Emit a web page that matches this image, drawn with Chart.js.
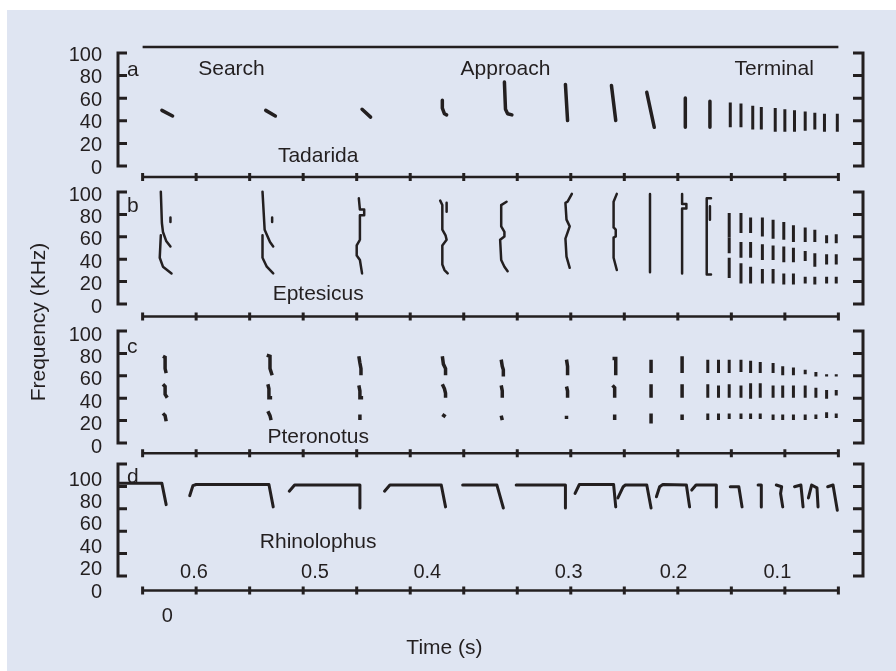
<!DOCTYPE html>
<html>
<head>
<meta charset="utf-8">
<script src="https://cdn.jsdelivr.net/npm/chart.js@4.4.1/dist/chart.umd.min.js"></script>
<style>
  html, body { margin: 0; padding: 0; background: #fff; }
  #stage { position: relative; width: 896px; height: 671px; overflow: hidden; }
  #panelBg { position: absolute; left: 7px; top: 10px; right: 0; bottom: 0; background: #dfe5f2; }
  canvas { position: absolute; left: 0; top: 0; }
</style>
</head>
<body>
<div id="stage">
  <div id="panelBg"></div>
  <canvas id="chartA" width="896" height="671"></canvas>
  <canvas id="chartB" width="896" height="671"></canvas>
  <canvas id="chartC" width="896" height="671"></canvas>
  <canvas id="chartD" width="896" height="671"></canvas>
</div>
<script>
// === Eixos (tempo em ms ao longo do trecho, frequência em kHz) ===
const yTicks = [0, 20, 40, 60, 80, 100];
const timeTicks = [0, 50, 100, 150, 200, 250, 300, 350, 400, 450, 500, 550, 600, 650];
const timeTickLabels = ['0.6', '0.5', '0.4', '0.3', '0.2', '0.1'];
const timeTickPos = [48, 161, 266, 398, 496, 593];
const phaseLabels = ['Search', 'Approach', 'Terminal'];
const phasePos = [83, 339, 590];
const speciesNames = ['Tadarida', 'Eptesicus', 'Pteronotus', 'Rhinolophus'];
const panelLetters = ['a', 'b', 'c', 'd'];

// === a: Tadarida ===
const tadaridaCalls = [
  [[18, 51], [28, 46]],
  [[115, 51], [124, 46]],
  [[205, 52], [213, 45]],
  [[280, 60], [280, 53], [282, 48], [284, 47]],
  [[338, 76], [339, 52], [341, 48], [345, 47]],
  [[395, 74], [397, 42]],
  [[438, 73], [442, 42]],
  [[471, 67], [478, 36]],
  [[507, 62], [507, 36]],
  [[530, 59], [530, 36]]
];
const tadaridaBarX = [549, 559, 570, 578, 591, 600, 609, 619, 628, 637, 649];
const tadaridaBars = [[58, 36], [57, 36], [55, 34], [54, 34], [53, 32], [52, 32], [51, 32], [50, 33], [49, 34], [48, 32], [48, 32]];

// === b: Eptesicus ===
const eptesicusCalls = [
  [[17, 103], [18, 75], [19, 67], [22, 59], [26, 54]],
  [[17, 64], [16, 44], [19, 36], [27, 30]],
  [[26, 80], [26, 76]],
  [[112, 103], [114, 69], [119, 58], [122, 54]],
  [[112, 64], [112, 44], [116, 36], [122, 30]],
  [[121, 80], [121, 76]],
  [[202, 97], [203, 87], [207, 87], [207, 82], [203, 82], [203, 60], [200, 55], [200, 46], [203, 42], [205, 30]],
  [[278, 95], [280, 91], [280, 69], [283, 64], [284, 60], [280, 55], [280, 38], [282, 33], [285, 30]],
  [[284, 93], [284, 85]],
  [[340, 94], [335, 91], [335, 72], [338, 67], [338, 63], [334, 60], [335, 42], [338, 36], [341, 32]],
  [[401, 101], [397, 94], [395, 93], [396, 78], [399, 72], [395, 61], [396, 45], [399, 35]],
  [[443, 101], [440, 94], [440, 71], [442, 69], [442, 63], [440, 62], [440, 44], [443, 33]],
  [[474, 101], [474, 31]],
  [[504, 101], [504, 92], [508, 92], [508, 88], [504, 88], [504, 30]],
  [[531, 97], [527, 97], [527, 29], [531, 29]],
  [[530, 90], [530, 78]]
];
const eptesicusBarX = [548, 559, 568, 579, 589, 599, 608, 619, 628, 639, 648];
const eptesicusHigh = [[84, 62], [84, 66], [80, 66], [80, 63], [78, 61], [76, 60], [73, 58], [71, 58], [69, 58], [64, 57], [65, 57]];
const eptesicusMid = [[62, 48], [58, 44], [58, 44], [56, 42], [55, 42], [54, 40], [53, 40], [50, 41], [48, 36], [47, 38], [47, 38]];
const eptesicusLow = [[44, 26], [39, 21], [36, 21], [34, 21], [34, 21], [30, 20], [30, 20], [27, 21], [27, 20], [27, 21], [27, 21]];

// === c: Pteronotus ===
const pteronotusCalls = [
  [[19, 81], [21, 80], [21, 70], [22, 66]], [[19, 56], [21, 54], [21, 47], [23, 44]], [[19, 30], [21, 28], [22, 23]],
  [[116, 82], [119, 81], [119, 70], [121, 64]], [[117, 56], [118, 52], [118, 44], [121, 44]], [[117, 32], [119, 28], [120, 24]],
  [[202, 81], [203, 75], [204, 70], [204, 64]], [[202, 55], [203, 50], [203, 44], [206, 44]], [[203, 29], [203, 24]],
  [[280, 81], [281, 74], [283, 70], [283, 64]], [[280, 56], [282, 52], [283, 48], [283, 44]], [[280, 29], [283, 27]],
  [[335, 78], [336, 72], [337, 69], [337, 63]], [[335, 55], [336, 50], [336, 44]], [[335, 28], [336, 24]],
  [[396, 78], [397, 72], [397, 64]], [[396, 54], [397, 50], [397, 44]], [[396, 28], [396, 25]],
  [[439, 79], [442, 79], [442, 64]], [[439, 55], [441, 53], [441, 44]], [[441, 29], [441, 24]],
  [[475, 78], [475, 66]], [[475, 56], [475, 44]], [[475, 30], [475, 21]],
  [[504, 81], [504, 66]], [[504, 56], [504, 44]], [[504, 29], [504, 24]]
];
const pteronotusBarX = [528, 538, 548, 559, 568, 577, 589, 598, 608, 619, 629, 639, 648];
const pteronotusHigh = [[78, 66], [78, 66], [78, 66], [78, 67], [77, 66], [76, 66], [75, 66], [72, 64], [71, 64], [69, 65], [67, 63], [65, 63], [65, 63]];
const pteronotusMid = [[56, 44], [55, 44], [56, 44], [55, 44], [57, 43], [57, 44], [55, 44], [55, 44], [55, 44], [55, 44], [53, 44], [51, 43], [51, 46]];
const pteronotusLow = [[30, 24], [30, 24], [30, 25], [30, 25], [30, 25], [30, 25], [29, 24], [29, 24], [29, 24], [29, 24], [29, 25], [31, 26], [30, 26]];

// === d: Rhinolophus ===
const rhinolophusCalls = [
  [[-22, 97], [18, 97], [22, 78]],
  [[44, 86], [47, 95], [50, 96], [118, 96], [122, 76]],
  [[137, 90], [142, 95.5], [203, 95.5], [203, 75]],
  [[226, 90], [231, 95.5], [279, 95.5], [283, 76]],
  [[299, 95.5], [331, 95.5], [337, 75]],
  [[349, 95.5], [395, 95.5], [395, 75]],
  [[404, 88], [408, 96], [440, 96], [442, 76]],
  [[444, 84], [449, 94], [451, 95.5], [471, 95.5], [475, 75]],
  [[480, 85], [483, 94], [486, 96], [508, 95.5], [511, 76]],
  [[513, 91], [517, 95.5], [536, 95.5], [536, 76]],
  [[549, 94], [557, 94], [560, 76]],
  [[575, 95.5], [578, 95.5], [578, 76]],
  [[592, 95.5], [597, 94], [596, 88], [598, 76]],
  [[609, 94], [615, 95.5], [617, 76]],
  [[622, 84], [625, 95.5], [630, 93], [631, 76]],
  [[640, 94], [645, 95.5], [649, 73]]
];

const INK = '#231f20';
const FONT = '"Liberation Sans", Arial, Helvetica, sans-serif';

// === Montar datasets ===
function callDatasets(lines, width, cap) {
  return lines.map(line => ({
    data: line.map(([t, f]) => ({ x: t, y: f })),
    showLine: true,
    borderColor: INK,
    borderWidth: width,
    borderCapStyle: cap || 'round',
    borderJoinStyle: cap === 'butt' ? 'miter' : 'round',
    pointRadius: 0,
    pointHoverRadius: 0,
    clip: false
  }));
}

function barDatasets(xs, rows, width) {
  const out = [];
  rows.forEach(row => row.forEach(([hi, lo], i) => {
    out.push({
      data: [{ x: xs[i], y: hi }, { x: xs[i], y: lo }],
      showLine: true,
      borderColor: INK,
      borderWidth: width,
      borderCapStyle: 'butt',
      pointRadius: 0,
      pointHoverRadius: 0,
      clip: false
    });
  }));
  return out;
}

function drawText(ctx, str, x, y, size, align) {
  ctx.font = `${size}px ${FONT}`;
  ctx.textAlign = align || 'center';
  ctx.textBaseline = 'alphabetic';
  ctx.fillText(str, x, y);
}

// === Colchetes, eixo de tempo e textos de cada painel ===
const panelDecor = {
  id: 'panelDecor',
  afterDatasetsDraw(chart, args, opts) {
    const { ctx, chartArea } = chart;
    const xs = chart.scales.x, ys = chart.scales.y;
    const L = chartArea.left, R = chartArea.right;
    const by = v => ys.getPixelForValue(v) + opts.bracketShift;
    ctx.save();
    ctx.strokeStyle = INK;
    ctx.fillStyle = INK;
    ctx.lineWidth = 3;
    ctx.lineCap = 'butt';

    // colchetes esquerdo e direito
    ctx.beginPath();
    ctx.moveTo(L + 9, by(0)); ctx.lineTo(L, by(0)); ctx.lineTo(L, by(100)); ctx.lineTo(L + 9, by(100));
    ctx.moveTo(R - 10, by(0)); ctx.lineTo(R, by(0)); ctx.lineTo(R, by(100)); ctx.lineTo(R - 10, by(100));
    yTicks.slice(1, -1).forEach(v => {
      ctx.moveTo(L, by(v)); ctx.lineTo(L + 9, by(v));
      ctx.moveTo(R, by(v)); ctx.lineTo(R - 10, by(v));
    });
    ctx.stroke();

    // linha do tempo com marcas
    const ay = ys.getPixelForValue(opts.axisY);
    ctx.lineWidth = 2.5;
    ctx.beginPath();
    ctx.moveTo(xs.getPixelForValue(timeTicks[0]), ay);
    ctx.lineTo(xs.getPixelForValue(timeTicks[timeTicks.length - 1]), ay);
    ctx.stroke();
    ctx.lineWidth = 3;
    ctx.beginPath();
    timeTicks.forEach(t => {
      const px = xs.getPixelForValue(t);
      ctx.moveTo(px, ay - 4); ctx.lineTo(px, ay + 4);
    });
    ctx.stroke();

    if (opts.topLineY !== undefined) {
      ctx.lineWidth = 2.5;
      ctx.beginPath();
      const ty = ys.getPixelForValue(opts.topLineY);
      ctx.moveTo(xs.getPixelForValue(timeTicks[0]), ty);
      ctx.lineTo(xs.getPixelForValue(timeTicks[timeTicks.length - 1]), ty);
      ctx.stroke();
    }

    drawText(ctx, opts.letter, L + 9, ys.getPixelForValue(opts.letterY), 21, 'left');
    drawText(ctx, opts.name, xs.getPixelForValue(164), ys.getPixelForValue(opts.nameY), 21);
    (opts.texts || []).forEach(([str, t, f, size]) => {
      drawText(ctx, str, xs.getPixelForValue(t), ys.getPixelForValue(f), size);
    });
    if (opts.freqTitle) {
      ctx.save();
      ctx.translate(45, 322);
      ctx.rotate(-Math.PI / 2);
      drawText(ctx, 'Frequency (KHz)', 0, 0, 21);
      ctx.restore();
    }
    ctx.restore();
  }
};

function makePanel(canvasId, datasets, area, decor) {
  return new Chart(document.getElementById(canvasId), {
    type: 'scatter',
    data: { datasets },
    options: {
      responsive: false,
      animation: false,
      events: [],
      layout: { padding: { top: area.top, bottom: 671 - area.bottom, left: 0, right: 33 } },
      scales: {
        x: { type: 'linear', min: -23, max: 673, display: false },
        y: {
          type: 'linear',
          min: 0,
          max: 100,
          afterBuildTicks: s => { s.ticks = yTicks.map(v => ({ value: v })); },
          afterFit: s => { s.width = 118; s.paddingTop = 0; s.paddingBottom = 0; },
          grid: { display: false, drawTicks: false },
          border: { display: false },
          ticks: { autoSkip: false, padding: 16, color: INK, font: { family: FONT, size: 20 } }
        }
      },
      plugins: {
        legend: { display: false },
        tooltip: { enabled: false },
        panelDecor: decor
      }
    },
    plugins: [panelDecor]
  });
}

makePanel('chartA',
  [...callDatasets(tadaridaCalls, 3.5), ...barDatasets(tadaridaBarX, [tadaridaBars], 3)],
  { top: 55, bottom: 168 },
  {
    letter: panelLetters[0], letterY: 81, name: speciesNames[0], nameY: 5.6,
    axisY: -8, bracketShift: -2, topLineY: 107,
    texts: phaseLabels.map((p, i) => [p, phasePos[i], 82.3, 21])
  });

makePanel('chartB',
  [...callDatasets(eptesicusCalls, 2.5), ...barDatasets(eptesicusBarX, [eptesicusHigh, eptesicusMid, eptesicusLow], 3)],
  { top: 195, bottom: 307 },
  {
    letter: panelLetters[1], letterY: 85, name: speciesNames[1], nameY: 6.2,
    axisY: -8.5, bracketShift: -3, freqTitle: true
  });

makePanel('chartC',
  [...callDatasets(pteronotusCalls, 3.5, 'butt'), ...barDatasets(pteronotusBarX, [pteronotusHigh, pteronotusMid, pteronotusLow], 3)],
  { top: 335, bottom: 447 },
  {
    letter: panelLetters[2], letterY: 84, name: speciesNames[2], nameY: 3.6,
    axisY: -5.6, bracketShift: -4
  });

makePanel('chartD',
  callDatasets(rhinolophusCalls, 3),
  { top: 480, bottom: 592 },
  {
    letter: panelLetters[3], letterY: 97, name: speciesNames[3], nameY: 39,
    axisY: 1.3, bracketShift: -16,
    texts: [
      ...timeTickLabels.map((l, i) => [l, timeTickPos[i], 12.5, 20]),
      ['0', 23, -26.8, 20],
      ['Time (s)', 282, -55.4, 21]
    ]
  });
</script>
</body>
</html>
